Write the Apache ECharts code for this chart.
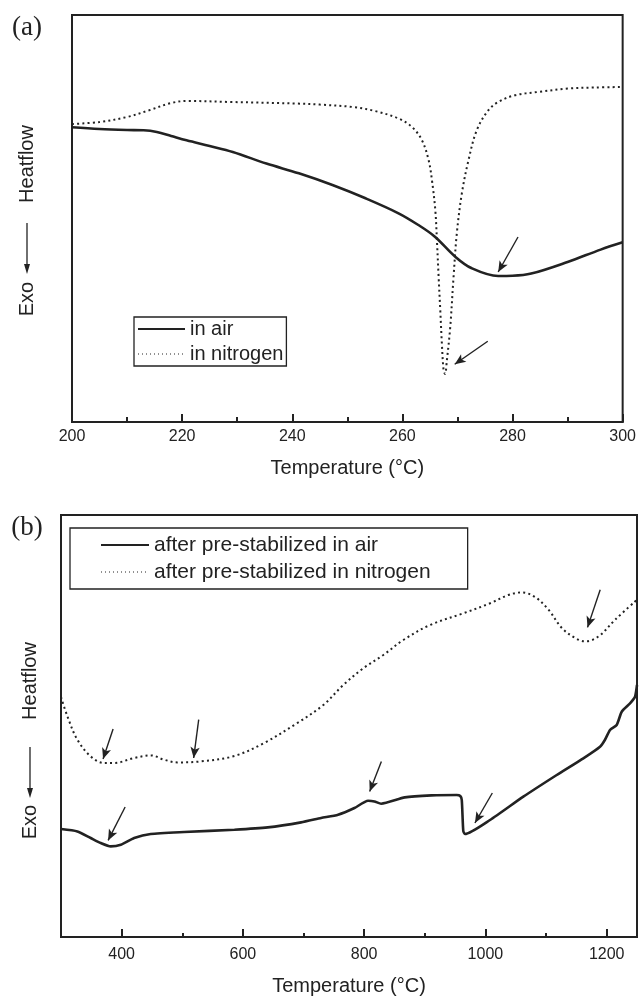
<!DOCTYPE html>
<html>
<head>
<meta charset="utf-8">
<script src="https://cdn.jsdelivr.net/npm/echarts@6/dist/echarts.min.js"></script>
<style>
html,body{margin:0;padding:0;background:#fff;}
#chart{width:639px;height:999px;}
</style>
</head>
<body>
<div id="chart"></div>
<script>
// ---------- Data (panel a: 200-300 °C) ----------
const airA = [[200,294.7],[205,293],[210,292],[213,291.7],[215.4,290],[218,286],[220.8,281.7],[225,276],[229.2,270],[235.3,258.4],[241.2,248.7],[247.3,237],[253.3,223.7],[259.3,208.7],[262.9,197],[265.9,185.3],[269.6,165.3],[272.6,153.7],[277.4,146],[280,146.2],[283.4,148.4],[290,160],[296,172.4],[300,179.7]];
const nitrogenA = [[200,298],[205,300],[210,305],[214,311.7],[218,319],[221,321],[229,320],[241,318.4],[245,317.4],[251,315],[255,311],[259.35,303.4],[261.75,295],[263.56,281.7],[264.77,261.7],[265.37,241.7],[265.98,211.7],[266.27,181.7],[266.58,145],[266.88,111.7],[267.17,78.4],[267.48,51.7],[267.75,48],[268.08,61.7],[268.69,95],[269.29,145],[269.88,188.4],[270.79,228.4],[272,261.7],[273.5,291.7],[275.6,311.7],[277.4,320],[280.4,326.7],[284.6,330],[290,333.4],[295,334.5],[300,335]];
const arrowsA = [[[281.0,185],[277.4,150]],[[275.5,80.7],[269.5,57.7]]];
const namesA = ['in air','in nitrogen'];

// ---------- Data (panel b: 300-1250 °C) ----------
const airB = [[300,108],[327,105.6],[349,99],[365.6,94],[382,90.6],[398.7,92.3],[420.7,99],[448,103],[503,105],[586,107.3],[641,109.6],[696,114.6],[729,119],[757,122.3],[784,129],[806.4,136.3],[817,135.6],[828,133.3],[867,139.6],[911,141.6],[952.6,142],[958.5,141],[961,137],[963.5,106],[966.3,103],[1007.6,117],[1062.5,140.3],[1117.6,162],[1161.5,178.7],[1189,190.3],[1197,197],[1205.5,207],[1216.5,212],[1224.8,225.3],[1238.5,233.7],[1246.7,240.3],[1250,252]];
const nitrogenB = [[300,240],[310.6,220.6],[327,197.3],[349,180.6],[371,174],[387.6,174],[420.7,179],[448,181.6],[470,177.3],[492,174.6],[531,175.6],[586,181],[634,193.7],[689,213.7],[732.6,232],[765.6,252],[798.6,268.7],[831.6,282],[864.6,297],[908.6,312],[963.5,323.7],[1007.6,333.7],[1037.8,342],[1059.8,344.6],[1081.8,340],[1104,327.3],[1126,309],[1148,299],[1164.5,295.6],[1186.6,300.6],[1214,317.3],[1250,337.3]];
const arrowsB = [[[385.9,208],[369.4,178]],[[527.1,217.3],[518.8,179]],[[405.8,130],[377.7,96.6]],[[828.4,175.6],[809.1,145.6]],[[1011.4,144],[982.7,114]],[[1189.3,347.3],[1168.4,309.6]]];
const namesB = ['after pre-stabilized in air','after pre-stabilized in nitrogen'];
const labelTicksB = [400,600,800,1000,1200];

// ---------- Styles ----------
const INK = '#222';
const SANS = '"Liberation Sans", Arial, Helvetica, sans-serif';
const SERIF = '"Liberation Serif", "Times New Roman", serif';

function arrowMark(list){
  return {
    silent: true,
    symbol: ['none','arrow'],
    symbolSize: [7, 11],
    label: {show:false},
    lineStyle: {color: INK, width: 1.4, type: 'solid'},
    data: list.map(a => [{coord:a[0]},{coord:a[1]}])
  };
}

const solidStyle = {color: INK, width: 2.6, type: 'solid'};
const dotStyle = {color: INK, width: 2, type: [2, 3.2]};

function yTitle(cx, heatY, arrowTop, arrowTip, exoY){
  return [
    {type:'text', x:cx, y:heatY, rotation:Math.PI/2, style:{text:'Heatflow', fill:INK, font:'20px '+SANS, textAlign:'center', textVerticalAlign:'middle'}},
    {type:'line', shape:{x1:cx, y1:arrowTop, x2:cx, y2:arrowTip-8}, style:{stroke:INK, lineWidth:1.3}},
    {type:'polygon', shape:{points:[[cx-3,arrowTip-10],[cx+3,arrowTip-10],[cx,arrowTip]]}, style:{fill:INK}},
    {type:'text', x:cx, y:exoY, rotation:Math.PI/2, style:{text:'Exo', fill:INK, font:'20px '+SANS, textAlign:'center', textVerticalAlign:'middle'}}
  ];
}

const legendItemStyle = {color:'rgba(0,0,0,0)', borderWidth:0, opacity:0};

const chart = echarts.init(document.getElementById('chart'), null, {renderer:'canvas'});

const option = {
  animation: false,
  backgroundColor: '#fff',
  grid: [
    {left:72, top:15, width:553, height:407, show:true, borderColor:INK, borderWidth:2, backgroundColor:'transparent'},
    {left:61, top:515, width:576, height:422, show:true, borderColor:INK, borderWidth:2, backgroundColor:'transparent'}
  ],
  xAxis: [
    {
      gridIndex:0, type:'value', min:200, max:300, interval:20, position:'bottom',
      axisLine:{show:true, lineStyle:{color:INK, width:2}},
      axisTick:{show:true, inside:true, length:8, lineStyle:{color:INK, width:2}},
      minorTick:{show:true, splitNumber:2, length:5, lineStyle:{color:INK, width:2}},
      splitLine:{show:false},
      axisLabel:{show:true, margin:7, color:INK, fontSize:16, fontFamily:SANS},
      name:'Temperature (°C)', nameLocation:'middle', nameGap:36,
      nameTextStyle:{color:INK, fontSize:20, fontFamily:SANS}
    },
    {
      gridIndex:1, type:'value', min:300, max:1250, interval:100, position:'bottom',
      axisLine:{show:true, lineStyle:{color:INK, width:2}},
      axisTick:{show:true, inside:true, length:4, lineStyle:{color:INK, width:2}},
      splitLine:{show:false},
      axisLabel:{show:true, margin:10, color:INK, fontSize:16, fontFamily:SANS,
        customValues: labelTicksB, formatter: v => String(v)},
      name:'Temperature (°C)', nameLocation:'middle', nameGap:39,
      nameTextStyle:{color:INK, fontSize:20, fontFamily:SANS}
    },
    {
      gridIndex:1, type:'value', min:300, max:1250, interval:100, position:'bottom',
      axisLine:{show:false},
      axisTick:{show:true, inside:true, length:8, lineStyle:{color:INK, width:2}, customValues: labelTicksB},
      splitLine:{show:false},
      axisLabel:{show:false}
    }
  ],
  yAxis: [
    {gridIndex:0, type:'value', min:0, max:407, axisLine:{show:true, lineStyle:{color:INK,width:2}}, axisTick:{show:false}, axisLabel:{show:false}, splitLine:{show:false}},
    {gridIndex:1, type:'value', min:0, max:422, axisLine:{show:true, lineStyle:{color:INK,width:2}}, axisTick:{show:false}, axisLabel:{show:false}, splitLine:{show:false}}
  ],
  legend: [
    {
      data:[{name:namesA[0]},{name:namesA[1], lineStyle:{width:1, type:[1,3]}}],
      orient:'vertical', left:134, top:317,
      padding:[1,3,1,3], itemGap:3, itemWidth:47, itemHeight:14,
      itemStyle: legendItemStyle,
      borderColor:INK, borderWidth:1.3,
      textStyle:{color:INK, fontSize:20, fontFamily:SANS, lineHeight:22},
      selectedMode:false
    },
    {
      data:[{name:namesB[0]},{name:namesB[1], lineStyle:{width:1, type:[1,3]}}],
      orient:'vertical', left:70, top:528,
      padding:[6,37,6,30], itemGap:5, itemWidth:48, itemHeight:14,
      itemStyle: legendItemStyle,
      borderColor:INK, borderWidth:1.3,
      textStyle:{color:INK, fontSize:21, fontFamily:SANS, lineHeight:22},
      selectedMode:false
    }
  ],
  series: [
    {name:namesA[0], type:'line', xAxisIndex:0, yAxisIndex:0, data:airA, symbol:'none', smooth:0.35, lineStyle:solidStyle, itemStyle:{color:INK}, z:3, markLine: arrowMark(arrowsA)},
    {name:namesA[1], type:'line', xAxisIndex:0, yAxisIndex:0, data:nitrogenA, symbol:'none', smooth:0.35, lineStyle:dotStyle, itemStyle:{color:INK}, z:2},
    {name:namesB[0], type:'line', xAxisIndex:1, yAxisIndex:1, data:airB, symbol:'none', smooth:0.2, lineStyle:solidStyle, itemStyle:{color:INK}, z:3, markLine: arrowMark(arrowsB)},
    {name:namesB[1], type:'line', xAxisIndex:1, yAxisIndex:1, data:nitrogenB, symbol:'none', smooth:0.35, lineStyle:dotStyle, itemStyle:{color:INK}, z:2}
  ],
  graphic: [
    {type:'text', x:27, y:28, style:{text:'(a)', fill:INK, font:'27px '+SERIF, textAlign:'center', textVerticalAlign:'middle'}},
    {type:'text', x:27, y:528, style:{text:'(b)', fill:INK, font:'27px '+SERIF, textAlign:'center', textVerticalAlign:'middle'}}
  ].concat(yTitle(27, 164, 223, 274, 299)).concat(yTitle(30, 681, 747, 798, 822))
};

chart.setOption(option);
</script>
</body>
</html>
